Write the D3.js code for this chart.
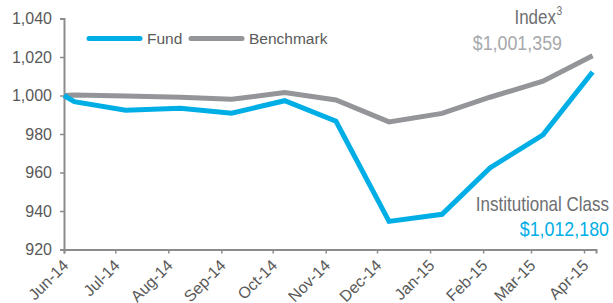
<!DOCTYPE html>
<html>
<head>
<meta charset="utf-8">
<script src="https://cdn.jsdelivr.net/npm/d3@7"></script>
<style>
  body { margin: 0; background: #fff; }
  svg { display: block; }
  text { font-family: "Liberation Sans", Arial, sans-serif; }
</style>
</head>
<body>
<svg id="chart" width="613" height="303"></svg>
<script>

/*
*       Data
*/

// Dates of each point (the points sit about a week into each month)
var dates = ['2014-06-01', '2014-06-07', '2014-07-07', '2014-08-08', '2014-09-07', '2014-10-08',
             '2014-11-07', '2014-12-08', '2015-01-08', '2015-02-05', '2015-03-08', '2015-04-06'];

// Growth of 1,000 for each series
var fundValues      = [1000, 996.8, 992.4, 993.4, 990.8, 997.3, 986.6, 934.6, 938.3, 962.4, 979.6, 1012.2];
var benchmarkValues = [1000, 1000.2, 999.8, 999.1, 998.0, 1001.5, 997.7, 986.3, 990.7, 999.1, 1007.4, 1020.6];

var yTicks = [920, 940, 960, 980, 1000, 1020, 1040];

var seriesNames = ['Fund', 'Benchmark'];
var seriesColors = ['#00aee6', '#949599'];

/*
*       Scales & axes
*/

var svg = d3.select('#chart');
var parseDate = d3.utcParse('%Y-%m-%d');

var x = d3.scaleUtc()
    .domain([parseDate('2014-06-01'), parseDate('2015-04-08')])
    .range([64, 596]);

var y = d3.scaleLinear()
    .domain([920, 1040])
    .range([249.5, 18.5]);

var axisColor = '#8c8c8c';
var labelColor = '#595959';

// Y axis
var yAxis = svg.append('g')
    .attr('transform', 'translate(64,0)')
    .call(d3.axisLeft(y).tickValues(yTicks).tickSize(4).tickPadding(8).tickFormat(d3.format(',')));

// X axis
var xAxis = svg.append('g')
    .attr('transform', 'translate(0,249.5)')
    .call(d3.axisBottom(x).ticks(d3.utcMonth.every(1)).tickSize(4).tickFormat(d3.utcFormat('%b-%y')));

[yAxis, xAxis].forEach(function(ax){
    ax.select('.domain').attr('stroke', axisColor).attr('stroke-width', 2);
    ax.selectAll('.tick line').attr('stroke', axisColor).attr('stroke-width', 1.5);
    ax.selectAll('.tick text').attr('fill', labelColor).style('font-size', '16px');
});

// Rotate month labels
xAxis.selectAll('.tick text')
    .attr('text-anchor', 'end')
    .attr('dy', null)
    .attr('y', 0)
    .attr('transform', 'translate(5,17) rotate(-45)');

/*
*       Lines
*/

var line = d3.line()
    .x(function(d){ return x(d.date); })
    .y(function(d){ return y(d.value); });

function toPoints( values ){
    return values.map(function(v, i){ return { date: parseDate(dates[i]), value: v }; });
}

// Draw the benchmark first so the fund sits on top
[benchmarkValues, fundValues].forEach(function(values, i){
    svg.append('path')
        .datum(toPoints(values))
        .attr('fill', 'none')
        .attr('stroke', seriesColors[1 - i])
        .attr('stroke-width', 5)
        .attr('stroke-linejoin', 'miter')
        .attr('d', line);
});

/*
*       Legend
*/

var legend = svg.append('g').attr('transform', 'translate(87,38.5)');
var legendOffsets = [0, 102];

seriesNames.forEach(function(name, i){
    var g = legend.append('g').attr('transform', 'translate(' + legendOffsets[i] + ',0)');
    g.append('line')
        .attr('x1', 2).attr('x2', 53)
        .attr('stroke', seriesColors[i])
        .attr('stroke-width', 5)
        .attr('stroke-linecap', 'round');
    g.append('text')
        .attr('x', 60).attr('y', 5.5)
        .attr('fill', labelColor)
        .style('font-size', '15.5px')
        .text(name);
});

/*
*       End labels (condensed type, squeezed horizontally since no narrow font is installed)
*/

function narrowLabel( x0, y0, size, color, str, anchor ){
    return svg.append('text')
        .attr('transform', 'translate(' + x0 + ',' + y0 + ') scale(0.85,1)')
        .attr('text-anchor', anchor || 'end')
        .attr('fill', color)
        .style('font-size', size + 'px')
        .text(str);
}

narrowLabel(556, 24, 20, '#6d6e71', 'Index');
narrowLabel(556.5, 15, 12, '#6d6e71', '3', 'start');
narrowLabel(562, 50, 21, '#a7a9ac', '$1,001,359');
narrowLabel(609, 211, 20, '#6d6e71', 'Institutional Class');
narrowLabel(609, 236, 21, '#00aee6', '$1,012,180');

</script>
</body>
</html>
